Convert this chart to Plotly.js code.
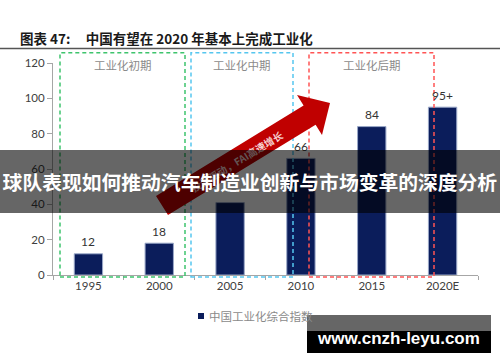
<!DOCTYPE html>
<html><head><meta charset="utf-8">
<script src="https://cdn.plot.ly/plotly-3.0.1.min.js"></script>
<style>html,body{margin:0;padding:0;background:#fff}</style>
</head><body>
<div id="chart" style="width:500px;height:362px"></div>
<script>
// ---- data ----
const years = ['1995', '2000', '2005', '2010', '2015', '2020E'];
const industrialIndex = [12, 18, 41, 66, 84, 95];
const barLabels = ['12', '18', '', '66', '84', '95+'];
const yTicks = [0, 20, 40, 60, 80, 100, 120];
const stageNames = ['工业化初期', '工业化中期', '工业化后期'];
const seriesName = '中国工业化综合指数';
const chartTitle = '图表 47:\u00a0\u00a0\u00a0\u00a0\u00a0中国有望在 2020 年基本上完成工业化';
const arrowText = '投资驱动，FAI高速增长';
const bannerText = '球队表现如何推动汽车制造业创新与市场变革的深度分析';
const watermarkText = 'www.cnzh-leyu.com';

// ---- layout helpers (pixel -> paper) ----
const W = 500, H = 362, L = 53, R = 478, T = 63, B = 275;
const px = p => (p - L) / (R - L);
const py = p => (B - p) / (B - T);

const stageBoxes = [
  {x0: 60, x1: 185, color: '#3ec46d', cx: 123},
  {x0: 191, x1: 293, color: '#55c6ef', cx: 242},
  {x0: 309, x1: 434, color: '#ff5454', cx: 371.5}
];

const shapes = [];
// title rule
shapes.push({type: 'line', xref: 'paper', yref: 'paper', x0: px(0), x1: px(500), y0: py(48.5), y1: py(48.5),
  line: {color: '#555', width: 1.6}});
stageBoxes.forEach(b => shapes.push({type: 'rect', xref: 'paper', yref: 'paper', layer: 'above',
  x0: px(b.x0), x1: px(b.x1), y0: py(277), y1: py(52.7),
  line: {color: b.color, width: 1.5, dash: '4px,3px'}, fillcolor: 'rgba(0,0,0,0)'}));
// red arrow
const arrowPts = [[156,196],[303.6,105.6],[297,95],[330,103],[322,135],[315.6,124.7],[168,215]];
shapes.push({type: 'path', xref: 'paper', yref: 'paper', layer: 'above',
  path: 'M' + arrowPts.map(p => px(p[0]) + ',' + py(p[1])).join('L') + 'Z',
  fillcolor: '#c00000', line: {width: 0}});
// legend swatch
shapes.push({type: 'rect', xref: 'paper', yref: 'paper', x0: px(198), x1: px(204), y0: py(319), y1: py(313),
  fillcolor: '#0b1d5b', line: {width: 0}});
// watermark box
shapes.push({type: 'rect', xref: 'paper', yref: 'paper', layer: 'above', x0: px(307), x1: px(491), y0: py(331), y1: py(315),
  fillcolor: '#666', line: {width: 0}});
shapes.push({type: 'rect', xref: 'paper', yref: 'paper', layer: 'above', x0: px(307), x1: px(491), y0: py(353), y1: py(331),
  fillcolor: '#000', line: {width: 0}});

const annotations = [];
years.forEach((yr, i) => {
  if (barLabels[i]) annotations.push({x: i, y: industrialIndex[i], xref: 'x', yref: 'y', text: barLabels[i],
    showarrow: false, yanchor: 'middle', yshift: 12, font: {family: 'Lato', size: 12, color: '#333'}});
});
stageBoxes.forEach((b, i) => annotations.push({xref: 'paper', yref: 'paper', x: px(b.cx), y: py(65),
  text: stageNames[i], showarrow: false, xanchor: 'center', yanchor: 'middle',
  font: {family: 'Noto Sans CJK SC', size: 11.5, color: '#8a8a8a'}}));
annotations.push({xref: 'paper', yref: 'paper', x: px(236), y: py(161), text: arrowText, textangle: -31.5,
  showarrow: false, xanchor: 'center', yanchor: 'middle',
  font: {family: 'Noto Sans CJK SC', size: 10, color: '#f6d0d0', weight: 'bold'}});
annotations.push({xref: 'paper', yref: 'paper', x: px(207), y: py(316), text: seriesName, showarrow: false,
  xanchor: 'left', yanchor: 'middle', font: {family: 'Noto Sans CJK SC', size: 11.5, color: '#8a8a8a'}});
// banner overlay
annotations.push({xref: 'paper', yref: 'paper', x: px(250), y: py(181.5), xanchor: 'center', yanchor: 'middle',
  width: 500, height: 63, borderpad: 0, borderwidth: 0, bgcolor: 'rgba(0,0,0,0.6)', showarrow: false,
  text: bannerText, font: {family: 'Noto Sans CJK SC', size: 19.8, color: '#fff', weight: 'bold'}});
annotations.push({xref: 'paper', yref: 'paper', x: px(398), y: py(338), xanchor: 'center', yanchor: 'middle',
  showarrow: false, text: watermarkText, font: {family: 'Liberation Sans', size: 17, color: '#fff', weight: 'bold'}});

const trace = {type: 'bar', x: years, y: industrialIndex, name: seriesName, width: 0.4,
  marker: {color: '#0b1d5b', line: {color: '#9aa8c8', width: 1}}, hoverinfo: 'skip'};

const layout = {
  width: W, height: H, margin: {l: L, r: W - R, t: T, b: H - B},
  paper_bgcolor: '#fff', plot_bgcolor: '#fff', showlegend: false,
  title: {text: chartTitle, x: 20 / W, xanchor: 'left', xref: 'container', y: 1 - 39 / H, yref: 'container', yanchor: 'middle',
    font: {family: 'Noto Sans CJK SC', size: 13.5, color: '#1a1a1a', weight: 'bold'}},
  xaxis: {type: 'category', categoryorder: 'array', categoryarray: years, range: [-0.5, years.length - 0.5],
    showgrid: false, zeroline: false, showline: true, linecolor: '#a6a6a6', linewidth: 1,
    ticks: 'outside', tickson: 'boundaries', ticklen: 4, tickcolor: '#a6a6a6', tickangle: 0,
    tickfont: {family: 'Lato', size: 11.5, color: '#404040'}, fixedrange: true},
  yaxis: {range: [0, 120], tickvals: yTicks, showgrid: false, zeroline: false, showline: true, linecolor: '#a6a6a6', linewidth: 1,
    ticks: 'outside', ticklen: 5, tickcolor: '#a6a6a6',
    tickfont: {family: 'Lato', size: 11.5, color: '#404040'}, fixedrange: true},
  shapes: shapes, annotations: annotations
};
Plotly.newPlot('chart', [trace], layout, {displayModeBar: false, staticPlot: true});
</script>
</body></html>
